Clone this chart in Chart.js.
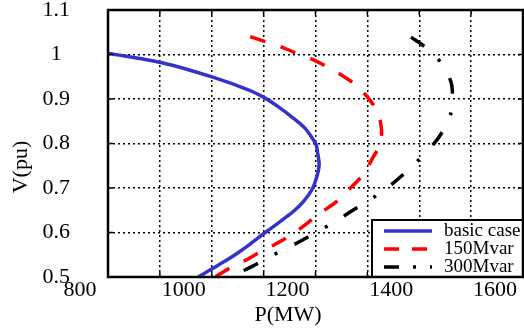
<!DOCTYPE html>
<html><head><meta charset="utf-8">
<script src="https://cdn.jsdelivr.net/npm/chart.js@4/dist/chart.umd.min.js"></script>
<style>html,body{margin:0;padding:0;background:#fff;}canvas{display:block;}</style>
</head><body>
<canvas id="c" width="524" height="330"></canvas>
<script>
// ---- data ----
const seriesLabels = ['basic case', '150Mvar', '300Mvar'];
const pBasic = [800, 902, 1002, 1074, 1103, 1128, 1154, 1180, 1195, 1201, 1204, 1207, 1202, 1193, 1177, 1161, 1145, 1128, 1103, 1074, 1050, 1029, 1003, 974];
const vBasic = [1.003, 0.982, 0.949, 0.919, 0.902, 0.883, 0.860, 0.834, 0.810, 0.798, 0.780, 0.752, 0.723, 0.696, 0.670, 0.651, 0.636, 0.621, 0.600, 0.574, 0.554, 0.538, 0.520, 0.500];
const pQ150 = [1074, 1103, 1132, 1159, 1189, 1217, 1247, 1275, 1302, 1320, 1327, 1325, 1310, 1294, 1265, 1238, 1207, 1180, 1151, 1123, 1093, 1064, 1035, 1006];
const vQ150 = [1.040, 1.029, 1.018, 1.005, 0.992, 0.976, 0.956, 0.934, 0.902, 0.869, 0.834, 0.799, 0.767, 0.733, 0.697, 0.667, 0.642, 0.617, 0.593, 0.574, 0.556, 0.537, 0.520, 0.500];
const pQ300 = [1384, 1412, 1443, 1461, 1464, 1461, 1446, 1428, 1395, 1363, 1337, 1303, 1268, 1243, 1207, 1175, 1149, 1114, 1080, 1055, 1033];
const vQ300 = [1.039, 1.016, 0.980, 0.939, 0.907, 0.868, 0.829, 0.799, 0.759, 0.724, 0.699, 0.672, 0.647, 0.628, 0.604, 0.583, 0.567, 0.547, 0.525, 0.511, 0.500];
const xTickLabels = ['800', '1000', '1200', '1400', '1600'];
const yTickLabels = ['0.5', '0.6', '0.7', '0.8', '0.9', '1', '1.1'];
const xTitle = 'P(MW)';
const yTitle = 'V(pu)';

const FONT = '"Liberation Serif", "Times New Roman", serif';
const colors = ['#3333cc', '#ff0000', '#000000'];
const dashes = [[], [16, 16], [16, 19, 3, 19]];
const legendDashes = [[], [15, 13], [15, 14, 3, 14]];

function pts(p, v) { return p.map((x, i) => ({ x: x, y: v[i] })); }

const frame = {
  id: 'frame',
  afterDraw(chart) {
    const ctx = chart.ctx, a = chart.chartArea, sx = chart.scales.x, sy = chart.scales.y;
    ctx.save();
    ctx.setLineDash([]);
    ctx.strokeStyle = '#000';
    ctx.lineWidth = 1.5;
    const seg = (x1, y1, x2, y2) => { ctx.beginPath(); ctx.moveTo(x1, y1); ctx.lineTo(x2, y2); ctx.stroke(); };
    sx.ticks.forEach(t => { const px = sx.getPixelForValue(t.value); seg(px, a.bottom, px, a.bottom - 5); seg(px, a.top, px, a.top + 5); });
    sy.ticks.forEach(t => { const py = sy.getPixelForValue(t.value); seg(a.left, py, a.left + 5, py); seg(a.right, py, a.right - 5, py); });

    // legend box (bottom-right, inside plot)
    const lw = 151, lh = 57;
    const lx = a.right - lw, ly = a.bottom - lh;
    ctx.fillStyle = '#fff';
    ctx.fillRect(lx, ly, lw, lh);
    ctx.lineWidth = 2;
    ctx.strokeRect(lx, ly, lw, lh);
    const rows = [ly + 11, ly + 29, ly + 47];
    ctx.font = '19px ' + FONT;
    ctx.textBaseline = 'middle';
    ctx.textAlign = 'left';
    seriesLabels.forEach((lab, i) => {
      ctx.save();
      ctx.strokeStyle = colors[i];
      ctx.lineWidth = 3.5;
      ctx.setLineDash(legendDashes[i]);
      ctx.beginPath(); ctx.moveTo(lx + 12, rows[i]); ctx.lineTo(lx + 60, rows[i]); ctx.stroke();
      ctx.restore();
      ctx.fillStyle = '#000';
      ctx.fillText(lab, lx + 72, rows[i]);
    });

    // plot box
    ctx.setLineDash([]);
    ctx.lineWidth = 2.5;
    ctx.strokeStyle = '#000';
    ctx.strokeRect(a.left, a.top, a.right - a.left, a.bottom - a.top);

    // axis titles
    ctx.fillStyle = '#000';
    ctx.font = '22px ' + FONT;
    ctx.textAlign = 'center';
    ctx.textBaseline = 'alphabetic';
    ctx.fillText(xTitle, 288, 321);
    ctx.save();
    ctx.translate(27, 167);
    ctx.rotate(-Math.PI / 2);
    ctx.fillText(yTitle, 0, 0);
    ctx.restore();
    ctx.restore();
  }
};

new Chart(document.getElementById('c'), {
  type: 'scatter',
  data: {
    datasets: [
      { label: seriesLabels[0], data: pts(pBasic, vBasic) },
      { label: seriesLabels[1], data: pts(pQ150, vQ150) },
      { label: seriesLabels[2], data: pts(pQ300, vQ300) }
    ].map((d, i) => Object.assign(d, {
      showLine: true, pointRadius: 0, borderColor: colors[i], backgroundColor: colors[i],
      borderWidth: 3.5, borderDash: dashes[i], tension: 0.3, borderCapStyle: 'butt', fill: false
    }))
  },
  options: {
    responsive: false,
    animation: false,
    devicePixelRatio: 1,
    layout: { padding: { top: 10, right: 1, left: 0, bottom: 0 } },
    plugins: { legend: { display: false }, tooltip: { enabled: false } },
    scales: {
      x: {
        type: 'linear', min: 800, max: 1600,
        ticks: {
          stepSize: 100, autoSkip: false, maxRotation: 0, padding: 0, labelOffset: -28,
          color: '#000', font: { family: FONT, size: 22 },
          callback: (v) => { const s = String(v); return xTickLabels.includes(s) ? s : ''; }
        },
        grid: { color: '#000', lineWidth: 1.5, drawTicks: false },
        border: { display: false, dash: [2, 3] },
        afterFit: (s) => { s.height = 53; s.paddingLeft = 0; s.paddingRight = 0; }
      },
      y: {
        type: 'linear', min: 0.5, max: 1.1,
        ticks: {
          stepSize: 0.1, autoSkip: false, padding: 38, crossAlign: 'center',
          color: '#000', font: { family: FONT, size: 22 },
          callback: (v) => { const s = String(Math.round(v * 10) / 10); return yTickLabels.includes(s) ? s : ''; }
        },
        grid: { color: '#000', lineWidth: 1.5, drawTicks: false },
        border: { display: false, dash: [2, 3] },
        afterFit: (s) => { s.width = 108; s.paddingTop = 0; s.paddingBottom = 0; }
      }
    }
  },
  plugins: [frame]
});
</script>
</body></html>
